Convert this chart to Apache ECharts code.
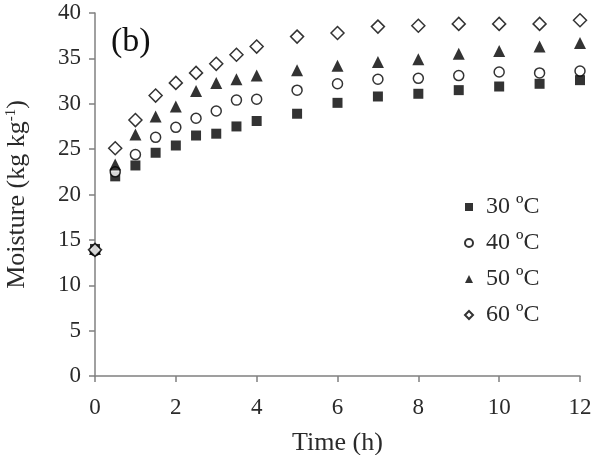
<!DOCTYPE html>
<html>
<head>
<meta charset="utf-8">
<script src="https://cdn.jsdelivr.net/npm/echarts@6/dist/echarts.min.js"></script>
<style>
  html, body { margin: 0; padding: 0; background: #fff; }
  #chart { width: 600px; height: 455px; }
</style>
</head>
<body>
<div id="chart"></div>
<script>
// time in hours
const times = [0, 0.5, 1, 1.5, 2, 2.5, 3, 3.5, 4, 5, 6, 7, 8, 9, 10, 11, 12];

// moisture (kg kg-1)
const moisture30 = [14.0, 22.0, 23.2, 24.6, 25.4, 26.5, 26.7, 27.5, 28.1, 28.9, 30.1, 30.8, 31.1, 31.5, 31.9, 32.2, 32.6];
const moisture40 = [13.8, 22.5, 24.4, 26.3, 27.4, 28.4, 29.2, 30.4, 30.5, 31.5, 32.2, 32.7, 32.8, 33.1, 33.5, 33.4, 33.6];
const moisture50 = [14.0, 23.3, 26.6, 28.6, 29.7, 31.4, 32.3, 32.7, 33.1, 33.7, 34.2, 34.6, 34.9, 35.5, 35.8, 36.3, 36.7];
const moisture60 = [13.9, 25.1, 28.2, 30.9, 32.3, 33.4, 34.4, 35.4, 36.3, 37.4, 37.8, 38.5, 38.6, 38.8, 38.8, 38.8, 39.2];

const seriesNames = ['30 ºC', '40 ºC', '50 ºC', '60 ºC'];

const font = '"Liberation Serif", "Times New Roman", serif';
const axisColor = '#808080';
const textColor = '#2a2a2a';

const pairs = vals => times.map((t, i) => [t, vals[i]]);

const filled = { color: '#000' };
const hollow = { color: '#fff', borderColor: '#000', borderWidth: 1.5 };

const chart = echarts.init(document.getElementById('chart'), null, { renderer: 'canvas' });

chart.setOption({
  animation: false,
  grid: { left: 95, right: 20, top: 13, bottom: 79, containLabel: false, outerBoundsMode: 'none' },
  title: {
    text: '(b)',
    left: 106,
    top: 20,
    textStyle: { fontFamily: font, fontSize: 34, fontWeight: 'normal', color: '#111' }
  },
  legend: {
    orient: 'vertical',
    left: 459,
    top: 190,
    itemWidth: 8,
    itemHeight: 8,
    itemGap: 12,
    data: seriesNames,
    textStyle: { fontFamily: font, fontSize: 24, color: textColor, padding: [0, 0, 0, 8] }
  },
  xAxis: {
    type: 'value',
    min: 0,
    max: 12,
    interval: 2,
    name: 'Time (h)',
    nameLocation: 'middle',
    nameGap: 54,
    nameTextStyle: { fontFamily: font, fontSize: 26, color: textColor },
    axisLine: { onZero: false, lineStyle: { color: axisColor, width: 1.5 } },
    axisTick: { show: true, length: 6, lineStyle: { color: axisColor, width: 1.5 } },
    axisLabel: { fontFamily: font, fontSize: 23, color: textColor, margin: 20 },
    splitLine: { show: false }
  },
  yAxis: {
    type: 'value',
    min: 0,
    max: 40,
    interval: 5,
    name: 'Moisture (kg kg{sup|-1})',
    nameLocation: 'middle',
    nameGap: 64,
    nameTextStyle: {
      fontFamily: font, fontSize: 26, color: textColor,
      rich: {
        sup: { fontFamily: font, fontSize: 15, color: textColor, verticalAlign: 'bottom', padding: [0, 0, 12, 0] }
      }
    },
    axisLine: { show: true, onZero: false, lineStyle: { color: axisColor, width: 1.5 } },
    axisTick: { show: true, length: 6, lineStyle: { color: axisColor, width: 1.5 } },
    axisLabel: { fontFamily: font, fontSize: 23, color: textColor, margin: 14 },
    splitLine: { show: false }
  },
  series: [
    { name: seriesNames[0], type: 'scatter', symbol: 'rect', symbolSize: 10, itemStyle: filled, data: pairs(moisture30) },
    { name: seriesNames[1], type: 'scatter', symbol: 'circle', symbolSize: 10, itemStyle: hollow, data: pairs(moisture40) },
    { name: seriesNames[2], type: 'scatter', symbol: 'triangle', symbolSize: 12, itemStyle: filled, data: pairs(moisture50) },
    { name: seriesNames[3], type: 'scatter', symbol: 'diamond', symbolSize: 13, itemStyle: hollow, data: pairs(moisture60) }
  ]
});
</script>
</body>
</html>
